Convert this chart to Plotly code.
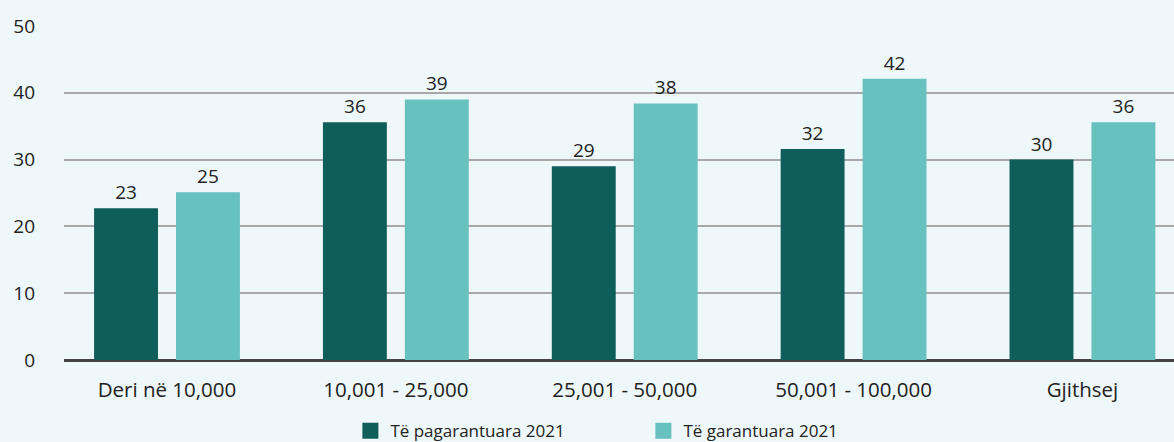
import plotly.graph_objects as go

categories = ["Deri në 10,000", "10,001 - 25,000", "25,001 - 50,000", "50,001 - 100,000", "Gjithsej"]
pagarantuara = [22.7, 35.6, 29.0, 31.6, 30.0]
garantuara = [25.1, 39.0, 38.4, 42.1, 35.6]
series_names = ["Të pagarantuara 2021", "Të garantuara 2021"]
y_ticks = [0, 10, 20, 30, 40, 50]

DARK = "#0f5e5b"
LIGHT = "#67c1bf"
BG = "#eef7f9"
FONT = "Open Sans"

fig = go.Figure()
for name, vals, col in [(series_names[0], pagarantuara, DARK), (series_names[1], garantuara, LIGHT)]:
    fig.add_trace(go.Bar(
        x=categories, y=vals, name=name, marker=dict(color=col, line=dict(width=0)),
        texttemplate="%{y:.0f}", textposition="outside", cliponaxis=False,
        textfont=dict(size=19, color="#222222", family=FONT),
        showlegend=False,
    ))
    fig.add_trace(go.Scatter(
        x=[None], y=[None], mode="markers", name=name,
        marker=dict(symbol="square", size=16, color=col),
    ))

fig.update_layout(
    width=1174, height=442,
    paper_bgcolor=BG, plot_bgcolor=BG,
    margin=dict(l=64, r=0, t=26, b=82, autoexpand=False),
    barmode="group", bargap=0.284, bargroupgap=0.22,
    font=dict(family=FONT, size=18, color="#222222"),
    legend=dict(orientation="h", x=0.258, xanchor="left", y=-0.159, yanchor="top",
                font=dict(size=17, family=FONT), entrywidth=248, itemsizing="trace",
                bgcolor="rgba(0,0,0,0)"),
    xaxis=dict(range=[-0.45, 4.40], showgrid=False, zeroline=False, showline=False, automargin=False,
               ticks="", tickfont=dict(size=20.5, family=FONT), ticklabelstandoff=15),
    yaxis=dict(range=[0, 50], tickvals=y_ticks, showgrid=True, gridcolor="#a8a8a8", gridwidth=1.5,
               zeroline=True, zerolinecolor="#444444", zerolinewidth=3, automargin=False,
               showline=False, ticks="", tickfont=dict(size=19, family=FONT), ticklabelstandoff=28),
)

fig.write_html("out.html", config={"displayModeBar": False},
               post_script="document.body.style.margin='0';document.body.style.overflow='hidden';")
